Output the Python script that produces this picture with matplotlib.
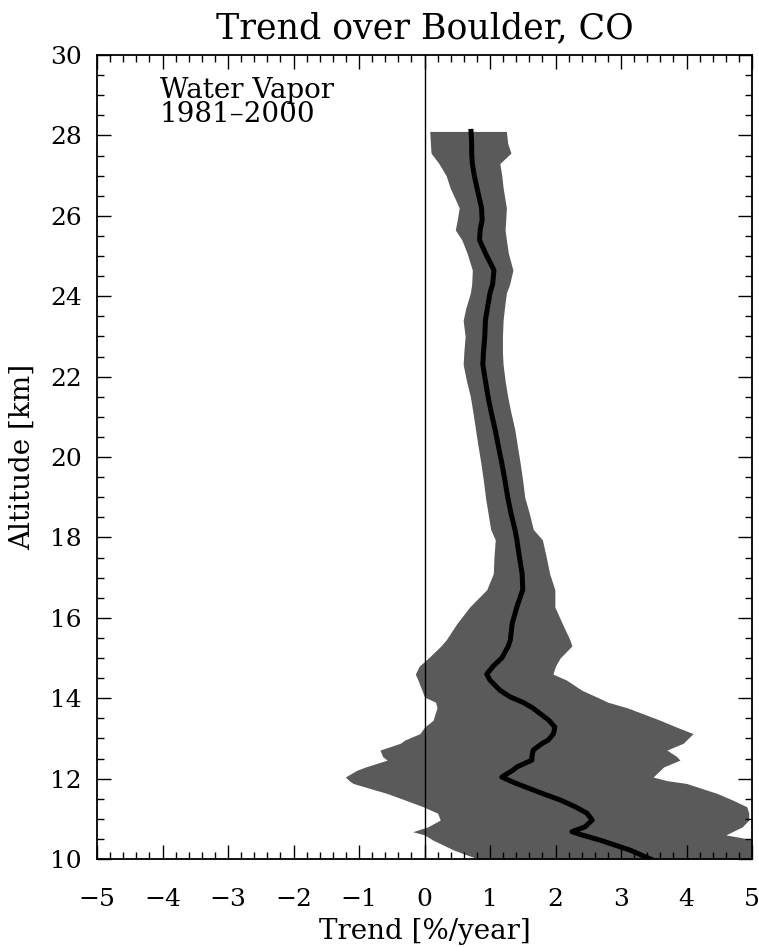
import matplotlib.pyplot as plt
from matplotlib.ticker import MultipleLocator

plt.rcParams['font.family'] = ['DejaVu Serif']

# altitude grid (km), top to bottom
alt = [28.10, 27.80, 27.56, 27.30, 27.00, 26.70, 26.20, 25.90, 25.65, 25.40,
       25.07, 24.65, 24.30, 24.08, 23.70, 23.40, 23.00, 22.60, 22.30, 21.90,
       21.50, 21.10, 20.67, 20.25, 19.85, 19.40, 19.00, 18.60, 18.20, 17.94,
       17.50, 17.10, 16.70, 16.27, 15.87, 15.45, 15.30, 15.00, 14.80, 14.60,
       14.45, 14.20, 14.03, 13.90, 13.76, 13.45, 13.28, 13.12, 12.96, 12.88,
       12.71, 12.55, 12.46, 12.29, 12.21, 12.04, 11.95, 11.88, 11.63, 11.47,
       11.30, 11.14, 10.97, 10.80, 10.68, 10.60, 10.47, 10.22, 10.00]

# trend (%/year) and its uncertainty range
trend = [0.71, 0.72, 0.72, 0.73, 0.76, 0.80, 0.87, 0.88, 0.85, 0.84,
         0.93, 1.06, 1.04, 1.00, 0.96, 0.93, 0.92, 0.90, 0.89, 0.93,
         0.97, 1.02, 1.08, 1.13, 1.18, 1.23, 1.27, 1.32, 1.38, 1.41,
         1.45, 1.49, 1.50, 1.41, 1.34, 1.31, 1.28, 1.18, 1.05, 0.95,
         1.00, 1.15, 1.31, 1.50, 1.65, 1.90, 1.99, 1.97, 1.89, 1.80,
         1.66, 1.64, 1.64, 1.41, 1.35, 1.18, 1.30, 1.40, 1.80, 2.07,
         2.30, 2.48, 2.56, 2.45, 2.25, 2.40, 2.68, 3.14, 3.45]

lower = [0.08, 0.09, 0.10, 0.22, 0.33, 0.39, 0.53, 0.50, 0.47, 0.57,
         0.65, 0.73, 0.72, 0.70, 0.63, 0.59, 0.62, 0.60, 0.59, 0.64,
         0.70, 0.74, 0.78, 0.82, 0.86, 0.90, 0.93, 0.97, 1.01, 1.08,
         1.06, 1.05, 0.95, 0.69, 0.50, 0.33, 0.25, 0.06, -0.08, -0.14,
         -0.10, -0.04, 0.00, 0.17, 0.19, 0.13, 0.00, -0.07, -0.30, -0.37,
         -0.68, -0.64, -0.57, -0.90, -1.03, -1.21, -1.15, -1.09, -0.57, -0.30,
         -0.02, 0.20, 0.24, 0.05, -0.18, 0.00, 0.13, 0.45, 0.82]

upper = [1.25, 1.27, 1.32, 1.15, 1.18, 1.20, 1.25, 1.24, 1.23, 1.25,
         1.28, 1.35, 1.30, 1.25, 1.22, 1.20, 1.19, 1.19, 1.20, 1.23,
         1.27, 1.32, 1.38, 1.42, 1.46, 1.50, 1.53, 1.60, 1.66, 1.80,
         1.86, 1.91, 1.99, 1.99, 2.10, 2.22, 2.25, 2.07, 2.00, 1.96,
         2.17, 2.40, 2.63, 2.80, 3.10, 3.60, 3.85, 4.10, 4.00, 3.95,
         3.70, 3.85, 3.90, 3.65, 3.60, 3.49, 3.70, 4.00, 4.47, 4.70,
         4.92, 4.95, 4.95, 4.85, 4.70, 4.60, 5.05, 5.20, 5.30]

fig = plt.figure(figsize=(7.59, 9.47), dpi=100)
ax = fig.add_axes([0.1278, 0.0929, 0.8630, 0.8490])

ax.fill_betweenx(alt, lower, upper, color='#5a5a5a', lw=0)
ax.plot(trend, alt, color='black', lw=3.6, solid_joinstyle='round')
ax.axvline(0, color='black', lw=1.0)

ax.set_xlim(-5, 5)
ax.set_ylim(10, 30)
ax.xaxis.set_major_locator(MultipleLocator(1))
ax.xaxis.set_minor_locator(MultipleLocator(0.2))
ax.yaxis.set_major_locator(MultipleLocator(2))
ax.yaxis.set_minor_locator(MultipleLocator(0.5))
ax.tick_params(which='both', direction='in', top=True, right=True, width=1.0)
ax.tick_params(which='major', length=10, labelsize=18)
ax.tick_params(which='minor', length=5)
ax.tick_params(axis='x', which='major', pad=21)
ax.tick_params(axis='y', which='major', pad=11)
for s in ax.spines.values():
    s.set_linewidth(1.3)

ax.set_title('Trend over Boulder, CO', fontsize=25, pad=12)
ax.set_xlabel('Trend [%/year]', fontsize=20, va='center')
ax.set_ylabel('Altitude [km]', fontsize=20, va='center')
ax.xaxis.set_label_coords(0.5, -0.090)
ax.yaxis.set_label_coords(-0.114, 0.5)
ax.text(0.096, 0.973, 'Water Vapor\n1981\u20132000', transform=ax.transAxes,
        fontsize=20, va='top', ha='left', linespacing=0.85)

fig.savefig('out.png', dpi=100)
